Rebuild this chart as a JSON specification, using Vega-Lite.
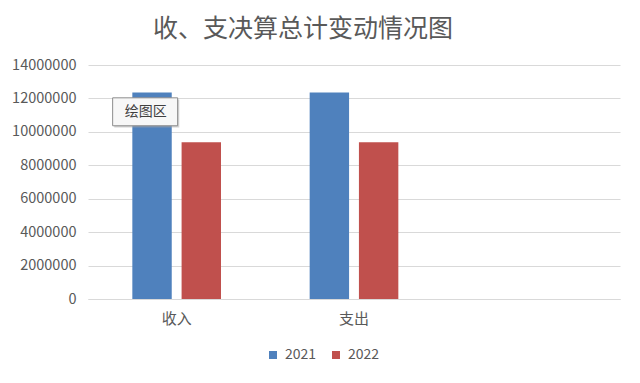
{
  "$schema": "https://vega.github.io/schema/vega-lite/v6.json",
  "autosize": {"type": "none"},
  "width": 532,
  "height": 234,
  "padding": {"left": 88, "top": 65, "right": 20, "bottom": 84},
  "background": "white",
  "title": {
    "text": "收、支决算总计变动情况图",
    "font": "Noto Sans CJK SC",
    "fontSize": 25,
    "fontWeight": "normal",
    "color": "#595959",
    "anchor": "middle",
    "dx": -51,
    "offset": 15
  },
  "config": {
    "view": {"stroke": null},
    "font": "Noto Sans CJK SC"
  },
  "datasets": {
    "bars": [
      {"item": "收入", "year": "2021", "value": 12360000},
      {"item": "收入", "year": "2022", "value": 9380000},
      {"item": "支出", "year": "2021", "value": 12360000},
      {"item": "支出", "year": "2022", "value": 9380000}
    ],
    "tip": [
      {"item": "收入", "label": "绘图区", "value": 11200000}
    ]
  },
  "encoding": {
    "x": {
      "field": "item",
      "type": "nominal",
      "sort": null,
      "scale": {"domain": ["收入", "支出", " "], "paddingInner": 0.5, "paddingOuter": 0.25},
      "axis": {
        "title": null,
        "labelAngle": 0,
        "ticks": false,
        "domainColor": "#d9d9d9",
        "labelFontSize": 15,
        "labelColor": "#595959",
        "labelPadding": 12
      }
    },
    "y": {
      "field": "value",
      "type": "quantitative",
      "scale": {"domain": [0, 14000000], "nice": false},
      "axis": {
        "title": null,
        "values": [0, 2000000, 4000000, 6000000, 8000000, 10000000, 12000000, 14000000],
        "format": "d",
        "domain": false,
        "ticks": false,
        "grid": true,
        "gridColor": "#d9d9d9",
        "labelOverlap": false,
        "labelFontSize": 14.5,
        "labelColor": "#595959",
        "labelPadding": 12
      }
    }
  },
  "layer": [
    {
      "data": {"name": "bars"},
      "mark": {"type": "bar"},
      "encoding": {
        "xOffset": {
          "field": "year",
          "type": "nominal",
          "scale": {"paddingInner": 0.2}
        },
        "color": {
          "field": "year",
          "type": "nominal",
          "scale": {"domain": ["2021", "2022"], "range": ["#4F81BD", "#C0504D"]},
          "legend": {
            "title": null,
            "orient": "none",
            "direction": "horizontal",
            "legendX": 178,
            "legendY": 283,
            "symbolType": "square",
            "symbolSize": 64,
            "symbolStrokeWidth": 0,
            "labelFontSize": 14,
            "labelColor": "#595959",
            "columnPadding": 12,
            "labelOffset": 5
          }
        }
      }
    },
    {
      "data": {"name": "tip"},
      "mark": {
        "type": "point",
        "shape": "M-1.92,-0.38 L0.08,-0.38 L0.08,0.48 L-1.92,0.48 Z",
        "size": 4225,
        "filled": true,
        "fill": "#aaaaaa",
        "opacity": 0.5,
        "strokeWidth": 0
      }
    },
    {
      "data": {"name": "tip"},
      "mark": {
        "type": "point",
        "shape": "M-1.97,-0.43 L0.03,-0.43 L0.03,0.43 L-1.97,0.43 Z",
        "size": 4225,
        "filled": true,
        "fill": "#f7f7f7",
        "stroke": "#8c8c8c",
        "strokeWidth": 1,
        "opacity": 1
      }
    },
    {
      "data": {"name": "tip"},
      "mark": {"type": "text", "fontSize": 14, "color": "#404040", "dx": -31, "font": "Noto Sans CJK SC"},
      "encoding": {
        "text": {"field": "label"}
      }
    }
  ]
}
